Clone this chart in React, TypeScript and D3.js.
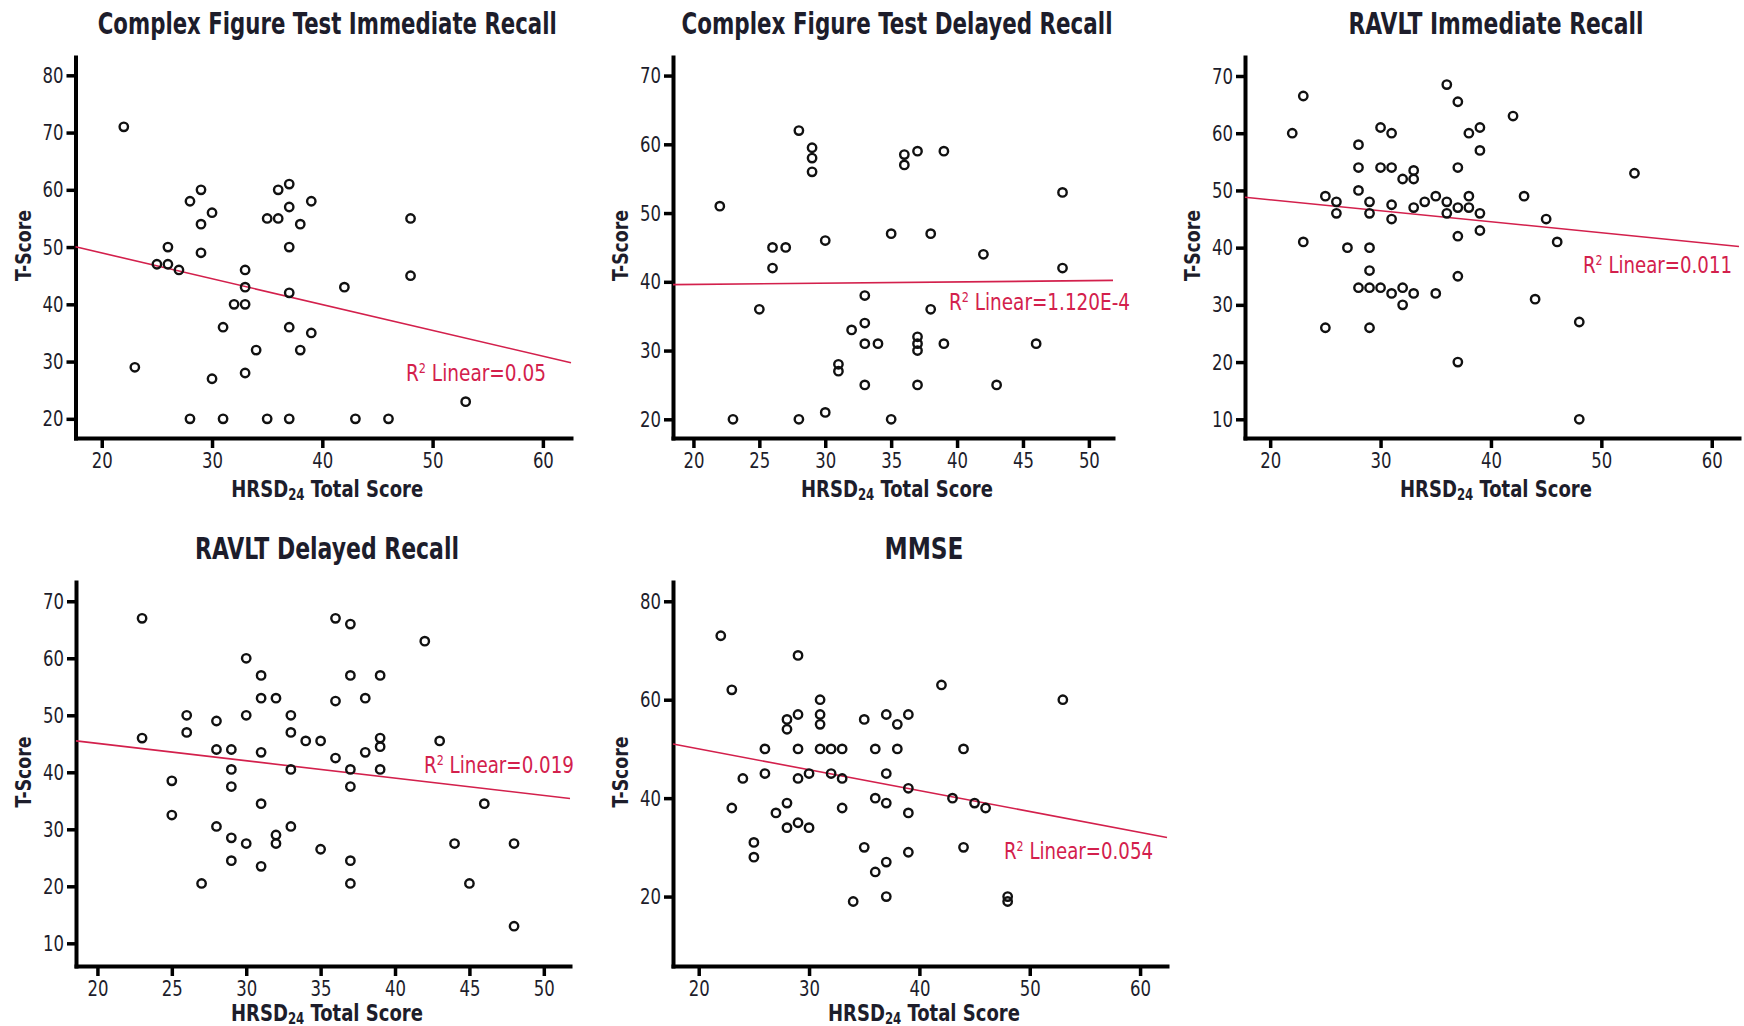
import { useEffect, useRef } from "react";
import * as d3 from "d3";

// HRSD24 total score (x) vs T-score (y), one pair of arrays per test
const cftImmediateX = [22, 23, 25, 26, 26, 27, 28, 28, 29, 29, 29, 30, 30, 31, 31, 32, 33, 33, 33, 33, 34, 35, 35, 36, 36, 37, 37, 37, 37, 37, 37, 38, 38, 39, 39, 42, 43, 46, 48, 48, 53];
const cftImmediateY = [71, 29, 47, 47, 50, 46, 58, 20, 60, 54, 49, 56, 27, 36, 20, 40, 40, 46, 43, 28, 32, 55, 20, 55, 60, 61, 57, 50, 42, 36, 20, 54, 32, 58, 35, 43, 20, 20, 55, 45, 23];

const cftDelayedX = [22, 23, 25, 26, 26, 27, 28, 28, 29, 29, 29, 30, 30, 31, 31, 32, 33, 33, 33, 33, 34, 35, 35, 36, 36, 37, 37, 37, 37, 37, 38, 38, 39, 39, 42, 43, 46, 48, 48];
const cftDelayedY = [51, 20, 36, 45, 42, 45, 62, 20, 59.5, 58, 56, 46, 21, 28, 27, 33, 38, 34, 31, 25, 31, 47, 20, 58.5, 57, 59, 32, 31, 30, 25, 47, 36, 59, 31, 44, 25, 31, 53, 42];

const ravltImmediateX = [22, 23, 23, 25, 25, 26, 26, 27, 28, 28, 28, 28, 29, 29, 29, 29, 29, 29, 30, 30, 30, 31, 31, 31, 31, 31, 32, 32, 32, 33, 33, 33, 33, 34, 35, 35, 36, 36, 36, 37, 37, 37, 37, 37, 37, 38, 38, 38, 39, 39, 39, 39, 42, 43, 44, 45, 46, 48, 48, 53];
const ravltImmediateY = [60, 66.5, 41, 49, 26, 48, 46, 40, 58, 54, 50, 33, 48, 46, 40, 36, 33, 26, 61, 54, 33, 60, 54, 47.5, 45, 32, 52, 33, 30, 53.5, 52, 47, 32, 48, 49, 32, 68.5, 48, 46, 65.5, 54, 47, 42, 35, 20, 60, 49, 47, 61, 57, 46, 43, 63, 49, 31, 45, 41, 27, 10, 53];

const ravltDelayedX = [23, 23, 25, 25, 26, 26, 27, 28, 28, 28, 29, 29, 29, 29, 29, 30, 30, 30, 31, 31, 31, 31, 31, 32, 32, 32, 33, 33, 33, 33, 34, 35, 35, 36, 36, 36, 37, 37, 37, 37, 37, 37, 38, 38, 39, 39, 39, 39, 42, 43, 44, 45, 46, 48, 48];
const ravltDelayedY = [67, 46, 38.5, 32.5, 50, 47, 20.5, 49, 44, 30.5, 44, 40.5, 37.5, 28.5, 24.5, 60, 50, 27.5, 57, 53, 43.5, 34.5, 23.5, 53, 29, 27.5, 50, 47, 40.5, 30.5, 45.5, 45.5, 26.5, 67, 52.5, 42.5, 66, 57, 40.5, 37.5, 24.5, 20.5, 53, 43.5, 57, 46, 44.5, 40.5, 63, 45.5, 27.5, 20.5, 34.5, 27.5, 13];

const mmseX = [22, 23, 23, 24, 25, 25, 26, 26, 27, 28, 28, 28, 28, 29, 29, 29, 29, 29, 30, 30, 31, 31, 31, 31, 32, 32, 33, 33, 33, 34, 35, 35, 36, 36, 36, 37, 37, 37, 37, 37, 38, 38, 39, 39, 39, 39, 42, 43, 44, 44, 45, 46, 48, 48, 53];
const mmseY = [73, 62, 38, 44, 31, 28, 50, 45, 37, 56, 54, 39, 34, 69, 57, 50, 44, 35, 45, 34, 60, 57, 55, 50, 50, 45, 50, 44, 38, 19, 56, 30, 50, 40, 25, 57, 45, 39, 27, 20, 55, 50, 57, 42, 37, 29, 63, 40, 50, 30, 39, 38, 20, 19, 60];

const titles = [
  "Complex Figure Test Immediate Recall",
  "Complex Figure Test Delayed Recall",
  "RAVLT Immediate Recall",
  "RAVLT Delayed Recall",
  "MMSE",
];
const r2Values = ["0.05", "1.120E-4", "0.011", "0.019", "0.054"];
// linear fit: T = intercept + slope * HRSD
const fitIntercepts = [57.99, 39.24, 52.21, 51.15, 58.5];
const fitSlopes = [-0.4507, 0.01857, -0.1922, -0.3042, -0.4244];

const xTicks = [
  [20, 30, 40, 50, 60],
  [20, 25, 30, 35, 40, 45, 50],
  [20, 30, 40, 50, 60],
  [20, 25, 30, 35, 40, 45, 50],
  [20, 30, 40, 50, 60],
];
const yTicks = [
  [20, 30, 40, 50, 60, 70, 80],
  [20, 30, 40, 50, 60, 70],
  [10, 20, 30, 40, 50, 60, 70],
  [10, 20, 30, 40, 50, 60, 70],
  [20, 40, 60, 80],
];

const seriesX = [cftImmediateX, cftDelayedX, ravltImmediateX, ravltDelayedX, mmseX];
const seriesY = [cftImmediateY, cftDelayedY, ravltImmediateY, ravltDelayedY, mmseY];

// layout of each panel in pixels, plus the axis extents
const layout = [
  { left: 75.5, right: 571, top: 57, bottom: 438, xDomain: [17.62, 62.55], yDomain: [16.65, 83.2], titleW: 459, r2X: 406, r2Y: 381, r2W: 140, labelGap: 59 },
  { left: 673, right: 1113, top: 57, bottom: 438, xDomain: [18.45, 51.83], yDomain: [17.28, 72.7], titleW: 431, r2X: 949, r2Y: 310, r2W: 181, labelGap: 59 },
  { left: 1245, right: 1739, top: 57, bottom: 438, xDomain: [17.72, 62.47], yDomain: [6.73, 73.32], titleW: 295, r2X: 1583, r2Y: 273, r2W: 149, labelGap: 59 },
  { left: 76, right: 570, top: 582, bottom: 966, xDomain: [18.56, 51.76], yDomain: [6.02, 73.38], titleW: 264, r2X: 424, r2Y: 773, r2W: 150, labelGap: 55 },
  { left: 673, right: 1167, top: 582, bottom: 966, xDomain: [17.67, 62.44], yDomain: [5.89, 83.92], titleW: 79, r2X: 1004, r2Y: 859, r2W: 149, labelGap: 55 },
];

const FONT = "'Liberation Sans Narrow', 'DejaVu Sans Condensed', 'Roboto Condensed', Roboto, 'Liberation Sans', sans-serif";
const RED = "#d3204c";
const INK = "#1d1d2b";

export default function App() {
  const svgRef = useRef<SVGSVGElement>(null);

  useEffect(() => {
    const svg = d3.select(svgRef.current);
    svg.selectAll("*").remove();

    layout.forEach((p, i) => {
      const x = d3.scaleLinear().domain(p.xDomain).range([p.left, p.right]);
      const y = d3.scaleLinear().domain(p.yDomain).range([p.bottom, p.top]);
      const g = svg.append("g");
      const cx = (p.left + p.right) / 2 + 4;
      const rowTop = p.top < 100 ? 0 : 525;

      // title
      g.append("text")
        .attr("x", cx)
        .attr("y", rowTop + 33.5)
        .attr("text-anchor", "middle")
        .attr("font-family", FONT)
        .attr("font-weight", "bold")
        .attr("font-size", 30)
        .attr("fill", INK)
        .attr("textLength", p.titleW)
        .attr("lengthAdjust", "spacingAndGlyphs")
        .text(titles[i]);

      // x axis
      const gx = g
        .append("g")
        .attr("transform", `translate(0,${p.bottom})`)
        .call(
          d3
            .axisBottom(x)
            .tickValues(xTicks[i])
            .tickSize(10)
            .tickSizeOuter(0)
            .tickPadding(4)
            .tickFormat(d3.format("d"))
        );
      // y axis
      const gy = g
        .append("g")
        .attr("transform", `translate(${p.left},0)`)
        .call(
          d3
            .axisLeft(y)
            .tickValues(yTicks[i])
            .tickSize(9)
            .tickSizeOuter(0)
            .tickPadding(3)
            .tickFormat(d3.format("d"))
        );

      [gx, gy].forEach((ax) => {
        ax.attr("font-family", FONT).attr("font-size", 22).attr("color", "#000");
        ax.select(".domain").attr("stroke-width", 4).attr("stroke-linecap", "square");
        ax.selectAll(".tick line").attr("stroke-width", 3.5);
        ax.selectAll(".tick text")
          .attr("fill", INK)
          .attr("textLength", 21)
          .attr("lengthAdjust", "spacingAndGlyphs");
      });

      // axis titles
      const xt = g
        .append("text")
        .attr("x", cx)
        .attr("y", p.bottom + p.labelGap)
        .attr("text-anchor", "middle")
        .attr("font-family", FONT)
        .attr("font-weight", "bold")
        .attr("font-size", 23)
        .attr("fill", INK)
        .attr("textLength", 192)
        .attr("lengthAdjust", "spacingAndGlyphs");
      xt.append("tspan").text("HRSD");
      xt.append("tspan").attr("dy", 3).attr("font-size", 15).text("24");
      xt.append("tspan").attr("dy", -3).text(" Total Score");

      const midY = (p.top + p.bottom) / 2 - 2;
      g.append("text")
        .attr("transform", `translate(${p.left - 45},${midY}) rotate(-90)`)
        .attr("text-anchor", "middle")
        .attr("font-family", FONT)
        .attr("font-weight", "bold")
        .attr("font-size", 22)
        .attr("fill", INK)
        .attr("textLength", 71)
        .attr("lengthAdjust", "spacingAndGlyphs")
        .text("T-Score");

      // fit line
      const fit = (v: number) => fitIntercepts[i] + fitSlopes[i] * v;
      g.append("line")
        .attr("x1", x(p.xDomain[0]))
        .attr("y1", y(fit(p.xDomain[0])))
        .attr("x2", x(p.xDomain[1]))
        .attr("y2", y(fit(p.xDomain[1])))
        .attr("stroke", RED)
        .attr("stroke-width", 1.6);

      const r2 = g
        .append("text")
        .attr("x", p.r2X)
        .attr("y", p.r2Y)
        .attr("font-family", FONT)
        .attr("font-size", 23)
        .attr("fill", RED)
        .attr("textLength", p.r2W)
        .attr("lengthAdjust", "spacingAndGlyphs");
      r2.append("tspan").text("R");
      r2.append("tspan").attr("dy", -8).attr("font-size", 14).text("2");
      r2.append("tspan").attr("dy", 8).text(" Linear=" + r2Values[i]);

      // points
      g.append("g")
        .selectAll("circle")
        .data(seriesX[i].map((v, k) => [v, seriesY[i][k]]))
        .join("circle")
        .attr("cx", (d) => x(d[0]))
        .attr("cy", (d) => y(d[1]))
        .attr("r", 4.2)
        .attr("fill", "none")
        .attr("stroke", "#111")
        .attr("stroke-width", 2.4);
    });
  }, []);

  return (
    <svg
      ref={svgRef}
      width={1744}
      height={1026}
      style={{ position: "absolute", left: 0, top: 0, background: "#fff" }}
    />
  );
}
